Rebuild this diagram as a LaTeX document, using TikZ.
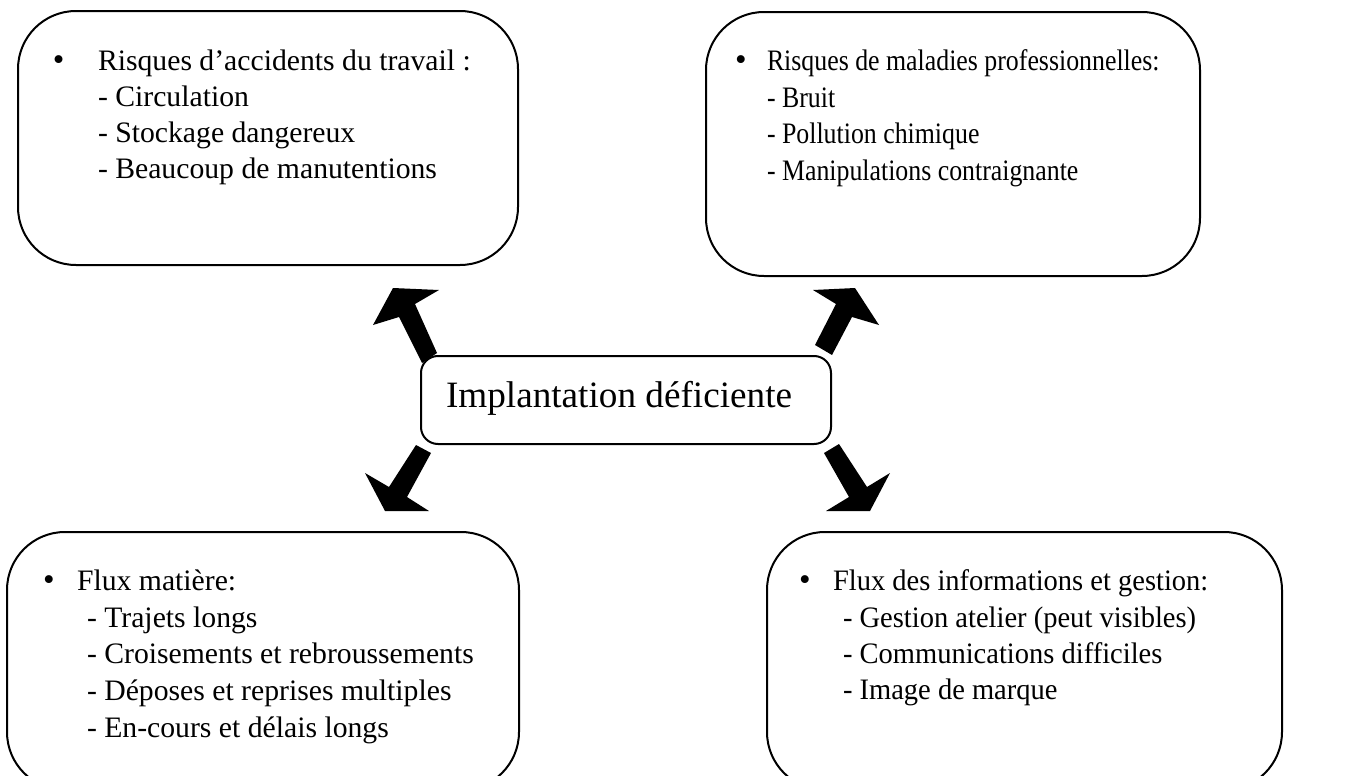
\documentclass[tikz,border=0pt]{standalone}
\usepackage{fontspec}
\setmainfont{Liberation Serif}
% text set a little narrower than its natural width
\newcommand{\narrowed}[2]{\scalebox{#1}[1]{#2}}
\begin{document}
\begin{tikzpicture}[x=0.5pt,y=-0.5pt,
  panel/.style={draw, line width=1pt, rounded corners=29pt, inner sep=0pt, outer sep=0pt},
  hub/.style={draw, line width=1pt, rounded corners=8.5pt, inner sep=0pt, outer sep=0pt,
              minimum width=205pt, minimum height=44pt},
  txt/.style={anchor=base west, inner sep=0pt, outer sep=0pt, font=\fontsize{14.85}{18}\selectfont},
  dot/.style={anchor=base west, inner sep=0pt, outer sep=0pt, font=\fontsize{16.5}{18}\selectfont},
  bigtxt/.style={anchor=base west, inner sep=0pt, outer sep=0pt, font=\fontsize{18.6}{22}\selectfont},
  blockarrow/.style={fill=black, draw=none}]
\useasboundingbox (0,0) rectangle (1346,776);

% four surrounding panels
\node[panel, minimum width=250pt, minimum height=127pt] (acc) at (268,138) {};
\node[panel, minimum width=247pt, minimum height=132pt] (mal) at (953,144) {};
\node[panel, minimum width=256pt, minimum height=129pt] (mat) at (263,661) {};
\node[panel, minimum width=257.5pt, minimum height=129pt] (inf) at (1024.5,661) {};

% central box
\node[hub] (hub) at (626,400) {};
\node[bigtxt] (hubtxt) at (446,407) {Implantation déficiente};

% block arrows from the centre outwards
\fill[blockarrow] (393,288) -- (439,290) -- (415,304) -- (437,353) -- (422,363)
  -- (399,317) -- (373,325) -- cycle;
\fill[blockarrow] (855,288) -- (879,325) -- (852,317) -- (832,355) -- (815,345)
  -- (836,304) -- (813,290) -- cycle;
\fill[blockarrow] (385,511) -- (365,473) -- (389,487) -- (416,445) -- (431,453)
  -- (407,497) -- (429,511) -- cycle;
\fill[blockarrow] (870,511) -- (826,511) -- (849,497) -- (824,453) -- (839,444)
  -- (867,487) -- (890,473) -- cycle;

% top-left panel text
\node[dot] (accb) at (53,70) {•};
\node[txt] (acch) at (98,70) {Risques d’accidents du travail :};
\node[txt] (acc1) at (98,106) {- Circulation};
\node[txt] (acc2) at (98,142) {- Stockage dangereux};
\node[txt] (acc3) at (98,178) {- Beaucoup de manutentions};

% top-right panel text
\node[dot] (malb) at (735,70) {•};
\node[txt] (malh) at (767,70) {\narrowed{0.87}{Risques de maladies professionnelles:}};
\node[txt] (mal1) at (767,107) {\narrowed{0.87}{- Bruit}};
\node[txt] (mal2) at (767,143) {\narrowed{0.87}{- Pollution chimique}};
\node[txt] (mal3) at (767,180) {\narrowed{0.87}{- Manipulations contraignante}};

% bottom-left panel text
\node[dot] (matb) at (43,590) {•};
\node[txt] (math) at (77,590) {Flux matière:};
\node[txt] (mat1) at (87,627) {- Trajets longs};
\node[txt] (mat2) at (87,663) {- Croisements et rebroussements};
\node[txt] (mat3) at (87,700) {- Déposes et reprises multiples};
\node[txt] (mat4) at (87,737) {- En-cours et délais longs};

% bottom-right panel text
\node[dot] (infb) at (799,590) {•};
\node[txt] (infh) at (833,590) {\narrowed{0.96}{Flux des informations et gestion:}};
\node[txt] (inf1) at (843,627) {\narrowed{0.96}{- Gestion atelier (peut visibles)}};
\node[txt] (inf2) at (843,663) {\narrowed{0.96}{- Communications difficiles}};
\node[txt] (inf3) at (843,699) {\narrowed{0.96}{- Image de marque}};
\end{tikzpicture}
\end{document}
